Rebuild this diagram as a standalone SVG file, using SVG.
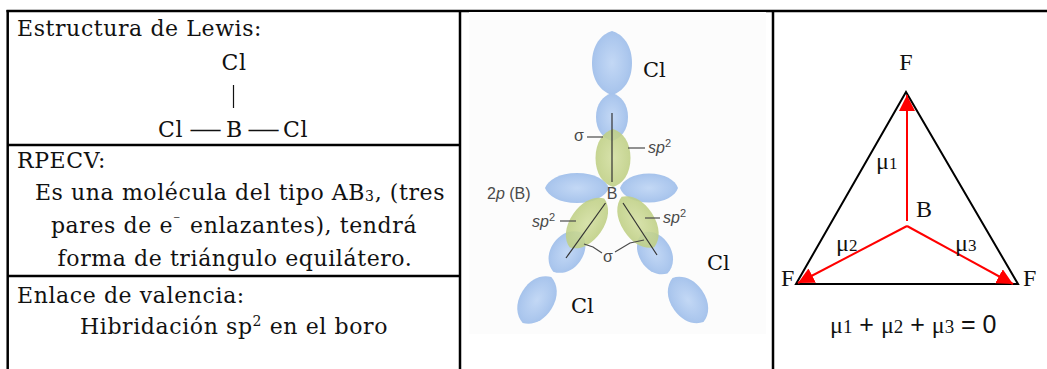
<svg xmlns="http://www.w3.org/2000/svg" width="1047" height="369" viewBox="0 0 1047 369">
  <style>
    .txt { font-family: "DejaVu Serif", "Liberation Serif", serif; font-size: 22px; fill: #111; letter-spacing: 0.6px; }
    .cl { font-family: "DejaVu Serif", "Liberation Serif", serif; font-size: 21px; fill: #111; }
    .rule { stroke: #000; stroke-width: 2.5; fill: none; }
    .lbl { font-family: "Liberation Sans", "DejaVu Sans", sans-serif; font-size: 16px; fill: #4a4a4a; }
    .lead { stroke: #4a4a4a; stroke-width: 1.2; fill: none; }
    .axis { stroke: #333; stroke-width: 1.2; }
    .pz { fill: url(#blueLobe); }
    .hyb { fill: url(#greenLobe); opacity: 0.88; }
    .mu { font-family: "Liberation Serif", "DejaVu Serif", serif; font-size: 24px; fill: #111; }
    .vec { stroke: #f00; stroke-width: 2; fill: none; marker-end: url(#redHead); }
  </style>
  <defs>
    <radialGradient id="blueLobe" cx="50%" cy="50%" r="55%">
      <stop offset="0" stop-color="#c3d8f5"/>
      <stop offset="0.7" stop-color="#adc8ee"/>
      <stop offset="1" stop-color="#a2c0ea"/>
    </radialGradient>
    <radialGradient id="greenLobe" cx="50%" cy="50%" r="55%">
      <stop offset="0" stop-color="#d2de9f"/>
      <stop offset="1" stop-color="#bccd80"/>
    </radialGradient>
    <!-- unit orbital lobe, slightly pointed at both ends; scaled per use -->
    <path id="lobe" d="M-1 0 C-0.9 -0.55 -0.55 -1 0 -1 C0.55 -1 0.9 -0.55 1 0 C0.9 0.55 0.55 1 0 1 C-0.55 1 -0.9 0.55 -1 0Z"/>
    <marker id="redHead" markerUnits="userSpaceOnUse" markerWidth="18" markerHeight="16" refX="16" refY="8" orient="auto">
      <path d="M0,0 L16,8 L0,16 z" fill="#f00"/>
    </marker>
  </defs>

  <rect width="1047" height="369" fill="#fff"/>

  <!-- table frame -->
  <g id="table">
    <line class="rule" x1="6.5" y1="11" x2="1047" y2="11"/>
    <line class="rule" x1="7.7" y1="10" x2="7.7" y2="369"/>
    <line class="rule" x1="460" y1="10" x2="460" y2="369"/>
    <line class="rule" x1="773" y1="10" x2="773" y2="369"/>
    <line class="rule" x1="7" y1="145" x2="460" y2="145"/>
    <line class="rule" x1="7" y1="276" x2="460" y2="276"/>
  </g>

  <!-- left column: Lewis structure, VSEPR, valence bond -->
  <g id="lewis">
    <text class="txt" x="17" y="36">Estructura de Lewis:</text>
    <text class="txt" x="234" y="70" text-anchor="middle" letter-spacing="0">Cl</text>
    <line x1="233.5" y1="85" x2="233.5" y2="108" stroke="#111" stroke-width="1.2"/>
    <text class="txt" x="158" y="137" letter-spacing="0">Cl</text>
    <text class="txt" x="189" y="137" textLength="34" lengthAdjust="spacingAndGlyphs">—</text>
    <text class="txt" x="234.5" y="137" text-anchor="middle" letter-spacing="0">B</text>
    <text class="txt" x="247" y="137" textLength="34" lengthAdjust="spacingAndGlyphs">—</text>
    <text class="txt" x="283" y="137" letter-spacing="0">Cl</text>
  </g>

  <g id="rpecv">
    <text class="txt" x="17" y="168">RPECV:</text>
    <text class="txt" x="240" y="200" text-anchor="middle" letter-spacing="1">Es una molécula del tipo AB<tspan font-size="14" dy="1">3</tspan><tspan dy="-1">, (tres</tspan></text>
    <text class="txt" x="234" y="233" text-anchor="middle">pares de e<tspan font-size="14" dy="-8">⁻</tspan><tspan dy="8" dx="9">enlazantes), tendrá</tspan></text>
    <text class="txt" x="235" y="266" text-anchor="middle" letter-spacing="0.3">forma de triángulo equilátero.</text>
  </g>

  <g id="valence-bond">
    <text class="txt" x="17" y="303" letter-spacing="0.7">Enlace de valencia:</text>
    <text class="txt" x="234" y="334" text-anchor="middle">Hibridación sp<tspan font-size="14" dy="-8">2</tspan><tspan dy="8"> en el boro</tspan></text>
  </g>

  <!-- middle column: orbital overlap picture of BCl3 -->
  <g id="orbitals">
    <rect x="469" y="12" width="297" height="322" fill="#fcfcfc"/>
    <!-- upper Cl -->
    <use href="#lobe" class="pz" transform="translate(612 63) rotate(90) scale(32 20)"/>
    <use href="#lobe" class="pz" transform="translate(612 117) rotate(90) scale(24 16)"/>
    <use href="#lobe" class="hyb" transform="translate(613 158) rotate(90) scale(29 17.5)"/>
    <!-- empty 2p of boron -->
    <use href="#lobe" class="pz" transform="translate(577 188) scale(32 15)"/>
    <use href="#lobe" class="pz" transform="translate(649 188) scale(29 14.5)"/>
    <!-- lower-left Cl -->
    <use href="#lobe" class="pz" transform="translate(537 300) rotate(122) scale(27 17)"/>
    <use href="#lobe" class="pz" transform="translate(567 252) rotate(125) scale(24 16)"/>
    <use href="#lobe" class="hyb" transform="translate(587 223) rotate(125) scale(30 16.5)"/>
    <!-- lower-right Cl -->
    <use href="#lobe" class="pz" transform="translate(688 300) rotate(55) scale(27 17)"/>
    <use href="#lobe" class="pz" transform="translate(655 253) rotate(59) scale(24 16)"/>
    <use href="#lobe" class="hyb" transform="translate(638 222) rotate(57) scale(30 16.5)"/>
    <!-- bond axes -->
    <line class="axis" x1="612" y1="113" x2="612" y2="182"/>
    <line class="axis" x1="605.5" y1="203" x2="566" y2="258"/>
    <line class="axis" x1="623" y1="203" x2="657" y2="255"/>
    <!-- labels with leaders -->
    <text class="lbl" x="612" y="199" text-anchor="middle">B</text>
    <text class="lbl" x="487" y="199">2<tspan font-style="italic">p</tspan> (B)</text>
    <text class="lbl" x="579" y="141" text-anchor="middle">σ</text>
    <line class="lead" x1="587" y1="137" x2="603" y2="137"/>
    <text class="lbl" x="648" y="153"><tspan font-style="italic">sp</tspan><tspan font-size="11" dy="-6">2</tspan></text>
    <line class="lead" x1="628" y1="148" x2="645" y2="148"/>
    <text class="lbl" x="532" y="227"><tspan font-style="italic">sp</tspan><tspan font-size="11" dy="-6">2</tspan></text>
    <line class="lead" x1="560" y1="221" x2="576" y2="221"/>
    <text class="lbl" x="663" y="223"><tspan font-style="italic">sp</tspan><tspan font-size="11" dy="-6">2</tspan></text>
    <line class="lead" x1="645" y1="218" x2="660" y2="218"/>
    <text class="lbl" x="608" y="262" text-anchor="middle">σ</text>
    <polyline class="lead" points="602,253 593,247 584,244"/>
    <polyline class="lead" points="615,252 630,243 644,240"/>
    <text class="cl" x="643" y="77">Cl</text>
    <text class="cl" x="707" y="270">Cl</text>
    <text class="cl" x="571" y="313">Cl</text>
  </g>

  <!-- right column: bond dipoles of BF3 -->
  <g id="dipoles">
    <polygon points="906,92 796,284 1018,284" fill="none" stroke="#000" stroke-width="2"/>
    <line class="vec" x1="907" y1="221" x2="907" y2="95"/>
    <line class="vec" x1="907" y1="226" x2="798" y2="283"/>
    <line class="vec" x1="907" y1="226" x2="1013" y2="284"/>
    <text class="mu" x="906" y="70" text-anchor="middle" font-size="26">F</text>
    <text class="mu" x="781" y="286" font-size="26">F</text>
    <text class="mu" x="1023" y="286" font-size="26">F</text>
    <text class="mu" x="916" y="217" font-size="25">B</text>
    <text class="mu" x="876" y="169">μ<tspan font-size="17">1</tspan></text>
    <text class="mu" x="836" y="251">μ<tspan font-size="17">2</tspan></text>
    <text class="mu" x="955" y="251">μ<tspan font-size="17">3</tspan></text>
    <text class="mu" x="830" y="333" font-size="25">μ<tspan font-size="19">1</tspan><tspan font-family="Liberation Sans, sans-serif" font-size="25"> + </tspan>μ<tspan font-size="19">2</tspan><tspan font-family="Liberation Sans, sans-serif" font-size="25"> + </tspan>μ<tspan font-size="19">3</tspan><tspan font-family="Liberation Sans, sans-serif" font-size="25"> = 0</tspan></text>
  </g>
</svg>
